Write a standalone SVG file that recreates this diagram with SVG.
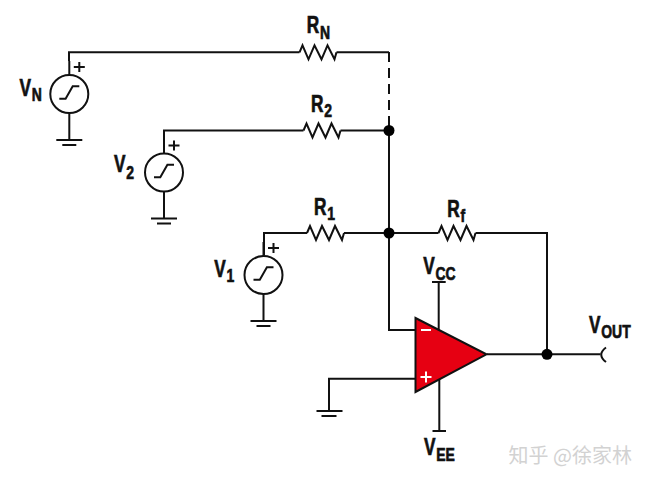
<svg xmlns="http://www.w3.org/2000/svg" width="648" height="484" viewBox="0 0 648 484">
<style>
.w{fill:none;stroke:#111;stroke-width:2}
.src{fill:#fff;stroke:#111;stroke-width:2}
.d{fill:#000}
.w2{fill:none;stroke:#fff;stroke-width:2}
text.l{font-family:"Liberation Sans",Arial,sans-serif;font-weight:bold;fill:#111;stroke:#111;stroke-width:.7px;font-size:23px}
.s{font-size:18.600px}
</style>
<defs>
<g id="source">
<path class="w" d="M0-33V46M-13 46H13M-7 51H7M10-32V-22M4.500-27H15.500"/>
<circle class="src" r="19"/>
<path class="w" d="M-10 4.700H-3.700L3.400-7.700H10"/>
</g>
<path id="zig" class="w" d="M0 0L3-7 9 7 15-7 22 7 28-7 35 7 37 0"/>
</defs>
<rect width="648" height="484" fill="#fff"/>
<g id="connectors">
<path class="w" d="M69 61V52.300H299.500M336.500 52.300H389"/>
<path class="w" d="M389 52V130" stroke-dasharray="10 6"/>
<path class="w" d="M164 154V130.500H303.500M340.500 130.500H389"/>
<path class="w" d="M264 255V233H307M344 233H438.500M475.500 233H547V354.300M389 130V330H416"/>
<path class="w" d="M487 354.300H600.500"/>
<path class="w" stroke-width="2.400" d="M606 347.500Q596.500 354.500 606 362"/>
<path class="w" d="M416 378.700H329V411M316.500 411H342.500M321.500 416H336.500"/>
<path class="w" d="M438.700 282V332M432 282H445.700M439.300 376V431M432.500 431H446"/>
<use href="#zig" x="299.500" y="52.300"/>
<use href="#zig" x="303.500" y="130.500"/>
<use href="#zig" x="307" y="233"/>
<use href="#zig" x="438.500" y="233"/>
</g>
<g id="junctions">
<circle class="d" cx="389" cy="130.500" r="5.500"/>
<circle class="d" cx="389" cy="233" r="5.500"/>
<circle class="d" cx="547" cy="354.300" r="5.500"/>
</g>
<g id="opamp">
<path d="M415.500 318L486.500 354.300 415.500 392Z" fill="#e60012" stroke="#111" stroke-width="2"/>
<path class="w2" d="M421 330H431M420.500 377H431.500M426 371.500V382.500"/>
</g>
<g id="source-n"><use href="#source" x="69.300" y="94"/></g>
<g id="source-2"><use href="#source" x="164" y="172.500"/></g>
<g id="source-1"><use href="#source" x="263.500" y="275"/></g>
<g id="labels">
<text class="l" transform="translate(19.500 95.700) scale(.75 1)">V<tspan class="s" dx="1" dy="5">N</tspan></text>
<text class="l" transform="translate(114 172) scale(.75 1)">V<tspan class="s" dx="1" dy="7">2</tspan></text>
<text class="l" transform="translate(214.300 276.700) scale(.75 1)">V<tspan class="s" dx="1" dy="5">1</tspan></text>
<text class="l" transform="translate(306.700 33.300) scale(.75 1)">R<tspan class="s" dx="1" dy="5.500">N</tspan></text>
<text class="l" transform="translate(311 111.700) scale(.75 1)">R<tspan class="s" dx="1" dy="5">2</tspan></text>
<text class="l" transform="translate(314 215) scale(.75 1)">R<tspan class="s" dx="1" dy="5">1</tspan></text>
<text class="l" transform="translate(447.300 216.700) scale(.75 1)">R<tspan class="s" dx="1" dy="5">f</tspan></text>
<text class="l" transform="translate(423.300 274) scale(.75 1)">V<tspan class="s" dx="1" dy="6">CC</tspan></text>
<text class="l" transform="translate(424 455) scale(.75 1)">V<tspan class="s" dx="1" dy="5.500">EE</tspan></text>
<text class="l" transform="translate(589 332.700) scale(.75 1)">V<tspan class="s" dx="1" dy="5.500">OUT</tspan></text>
</g>
<text x="508.500" y="463" font-size="20" style="font-family:'Noto Sans CJK SC',sans-serif;fill:#d2d2d2">知乎 @徐家林</text>
</svg>
